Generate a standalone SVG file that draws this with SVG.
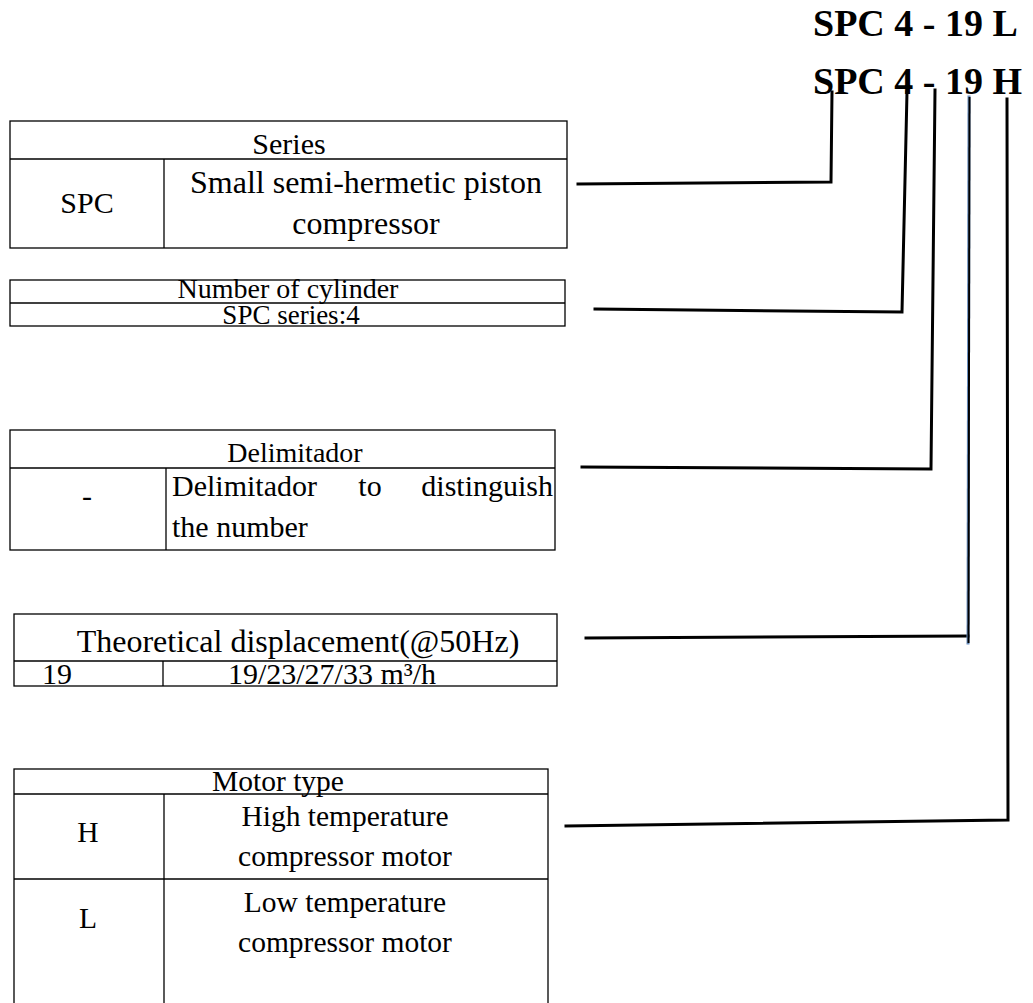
<svg xmlns="http://www.w3.org/2000/svg" width="1033" height="1003" viewBox="0 0 1033 1003">
<style>
.t{font-family:"Liberation Serif","Times New Roman",serif;font-size:30px;fill:#000}
.m{text-anchor:middle}
.e{text-anchor:end}
.s32{font-size:32px}
.s29{font-size:29.5px}
.s28{font-size:28px}
.s27{font-size:27px}
.b{font-family:"Liberation Serif","Times New Roman",serif;font-size:38px;font-weight:bold;fill:#000}
.tb{fill:none;stroke:#000;stroke-width:1.3}
.c{fill:none;stroke:#000;stroke-width:3;stroke-linecap:square}
</style>
<rect width="1033" height="1003" fill="#fff"/>
<g id="title">
<text class="b" x="813" y="36">SPC 4 - 19 L</text>
<text class="b" x="813" y="94">SPC 4 - 19 H</text>
</g>
<g id="series">
<rect class="tb" x="10" y="121" width="557" height="127"/>
<line class="tb" x1="10" y1="159" x2="567" y2="159"/>
<line class="tb" x1="164" y1="159" x2="164" y2="248"/>
<text class="t m" x="289" y="154">Series</text>
<text class="t m" x="87" y="213">SPC</text>
<text class="t s32 m" x="366" y="193">Small semi-hermetic piston</text>
<text class="t s32 m" x="366" y="234">compressor</text>
</g>
<g id="cylinder">
<rect class="tb" x="10" y="280" width="555" height="46"/>
<line class="tb" x1="10" y1="303" x2="565" y2="303"/>
<text class="t s28 m" x="288" y="298">Number of cylinder</text>
<text class="t s27 m" x="291" y="324">SPC series:4</text>
</g>
<g id="delim">
<rect class="tb" x="10" y="430" width="545" height="120"/>
<line class="tb" x1="10" y1="468" x2="555" y2="468"/>
<line class="tb" x1="166" y1="468" x2="166" y2="550"/>
<text class="t s28 m" x="295" y="462">Delimitador</text>
<text class="t m" x="87" y="506">-</text>
<text class="t" x="172" y="496">Delimitador</text>
<text class="t m" x="370" y="496">to</text>
<text class="t e" x="553" y="496">distinguish</text>
<text class="t" x="172" y="537">the number</text>
</g>
<g id="disp">
<rect class="tb" x="14" y="614" width="543" height="72"/>
<line class="tb" x1="14" y1="661" x2="557" y2="661"/>
<line class="tb" x1="163" y1="661" x2="163" y2="686"/>
<text class="t s32 m" x="298" y="652">Theoretical displacement(@50Hz)</text>
<text class="t m" x="57" y="684">19</text>
<text class="t m" x="332" y="684">19/23/27/33 m³/h</text>
</g>
<g id="motor">
<rect class="tb" x="14" y="769" width="534" height="240"/>
<line class="tb" x1="14" y1="794" x2="548" y2="794"/>
<line class="tb" x1="164" y1="794" x2="164" y2="1003"/>
<line class="tb" x1="14" y1="879" x2="548" y2="879"/>
<text class="t s29 m" x="278" y="791">Motor type</text>
<text class="t s29 m" x="88" y="842">H</text>
<text class="t s29 m" x="345" y="826">High temperature</text>
<text class="t s29 m" x="345" y="866">compressor motor</text>
<text class="t s29 m" x="88" y="928">L</text>
<text class="t s29 m" x="345" y="912">Low temperature</text>
<text class="t s29 m" x="345" y="952">compressor motor</text>
</g>
<g id="connectors">
<polyline class="c" points="578,184 831,182 832,92"/>
<polyline class="c" points="595,309 902,312 907,92"/>
<polyline class="c" points="582,467 931,469 935,90"/>
<polyline class="c" points="586,638 968,636"/>
<line class="c" x1="969" y1="97" x2="968" y2="643" style="stroke:#6a8fbf"/>
<line x1="969.5" y1="97" x2="968.5" y2="643" stroke="#000" stroke-width="2"/>
<polyline class="c" points="566,826 1008,820 1007,99"/>
</g>
</svg>
